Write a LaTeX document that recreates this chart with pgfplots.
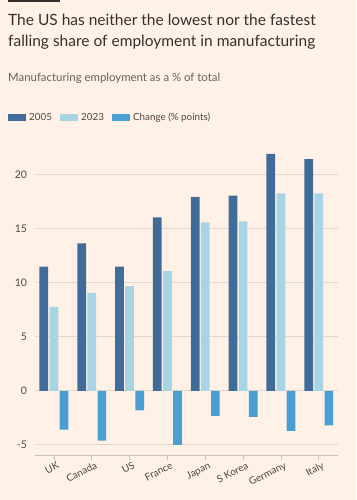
\documentclass[border=0pt]{standalone}
\usepackage{fontspec}
\setmainfont{Lato}
\usepackage{pgfplots}
\pgfplotsset{compat=1.18}
\definecolor{bg}{HTML}{FFF1E5}
\definecolor{titlec}{HTML}{33302E}
\definecolor{subc}{HTML}{66605C}
\definecolor{tickc}{HTML}{4D4845}
\definecolor{gridc}{HTML}{E2D8CE}
\definecolor{axisc}{HTML}{CCC1B7}
\definecolor{c05}{HTML}{3F6C99}
\definecolor{c23}{HTML}{A7D5E6}
\definecolor{cch}{HTML}{4A9FD2}
\begin{document}
\begin{tikzpicture}[x=1pt,y=1pt]
\fill[bg] (0,0) rectangle (356,-500);
\fill[titlec] (8,0) rectangle (60,-2);
\node[anchor=base west, inner sep=0, font=\fontsize{15.5}{19}\selectfont, text=titlec] at (8,-25.5) {The US has neither the lowest nor the fastest};
\node[anchor=base west, inner sep=0, font=\fontsize{15.5}{19}\selectfont, text=titlec] at (8,-46.3) {falling share of employment in manufacturing};
\node[anchor=base west, inner sep=0, font=\fontsize{11.4}{13}\selectfont, text=subc] at (8,-82) {Manufacturing employment as a \% of total};
\fill[c05] (8,-114) rectangle (26,-120.5);
\node[anchor=base west, inner sep=0, font=\fontsize{9.8}{11}\selectfont, text=tickc] at (29,-120.3) {2005};
\fill[c23] (60,-114) rectangle (78,-120.5);
\node[anchor=base west, inner sep=0, font=\fontsize{9.8}{11}\selectfont, text=tickc] at (81,-120.3) {2023};
\fill[cch] (112,-114) rectangle (130,-120.5);
\node[anchor=base west, inner sep=0, font=\fontsize{9.8}{11}\selectfont, text=tickc] at (133,-120.3) {Change (\% points)};
\begin{axis}[
  at={(35pt,-455.7pt)}, anchor=south west,
  scale only axis, width=302.7pt, height=308pt,
  xmin=-0.5, xmax=7.5, ymin=-6, ymax=22.5,
  axis x line*=bottom, axis y line*=left,
  y axis line style={draw=none},
  x axis line style={draw=axisc, line width=0.8pt, -},
  ytick style={draw=none},
  xtick style={draw=axisc, line width=0.8pt},
  tick align=outside, major tick length=4.5pt,
  ymajorgrids, grid style={gridc, line width=0.8pt},
  ytick={-5,0,5,10,15,20},
  xtick={0,...,7},
  xticklabels={UK,Canada,US,France,Japan,S Korea,Germany,Italy},
  x tick label style={rotate=27, anchor=north east, font=\fontsize{10}{12}\selectfont, text=tickc, inner sep=1pt, xshift=3pt, yshift=-1pt},
  y tick label style={font=\fontsize{10.5}{12}\selectfont, text=tickc},
  /pgf/number format/assume math mode=true,
  ybar=1.4pt, bar width=8.7pt,
  clip=false,
]
\addplot[fill=c05, draw=none] coordinates {(0,11.5) (1,13.65) (2,11.5) (3,16.05) (4,17.96) (5,18.06) (6,21.94) (7,21.45)};
\addplot[fill=c23, draw=none] coordinates {(0,7.78) (1,9.07) (2,9.69) (3,11.08) (4,15.59) (5,15.68) (6,18.28) (7,18.28)};
\addplot[fill=cch, draw=none] coordinates {(0,-3.58) (1,-4.6) (2,-1.81) (3,-5.0) (4,-2.31) (5,-2.41) (6,-3.7) (7,-3.2)};
\end{axis}
\pgfresetboundingbox
\useasboundingbox (0,0) rectangle (356,-500);
\end{tikzpicture}
\end{document}
